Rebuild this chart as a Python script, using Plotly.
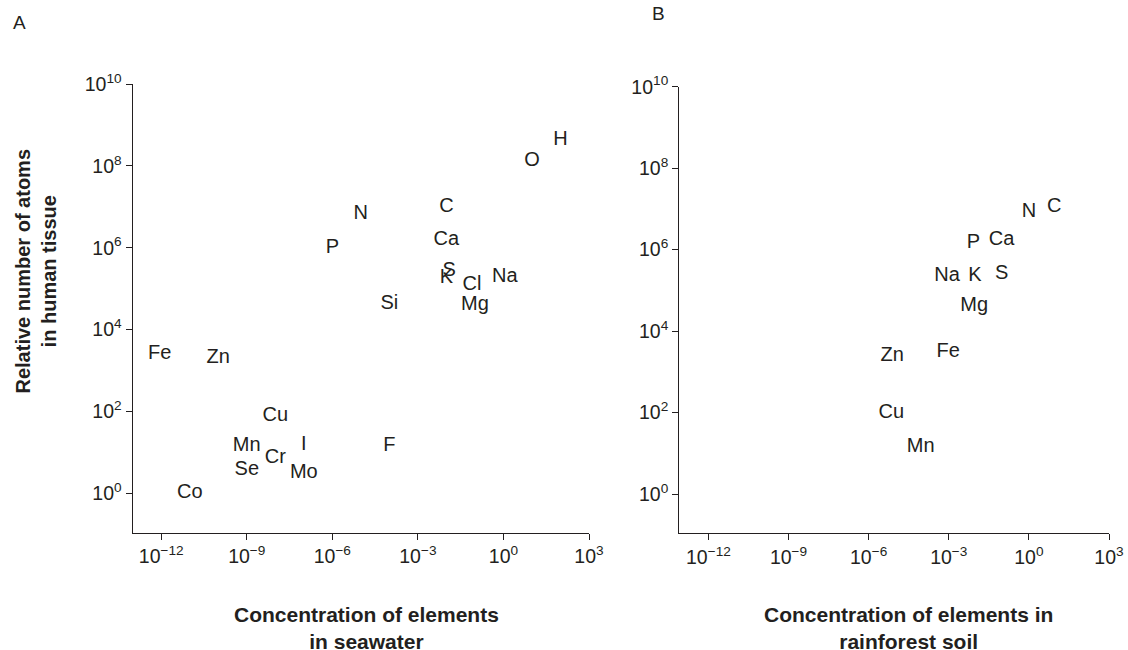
import plotly.graph_objects as go

# ---- Data (log10 values) ----
# Panel A: seawater concentration vs. atoms in human tissue
sea_elements = ["H", "O", "C", "N", "P", "Ca", "S", "K", "Cl", "Na", "Mg", "Si",
                "Fe", "Zn", "Cu", "Mn", "I", "F", "Cr", "Se", "Mo", "Co"]
sea_log_conc = [2.0, 1.0, -2.0, -5.0, -6.0, -2.0, -1.9, -2.0, -1.1, 0.05, -1.0, -4.0,
                -12.05, -10.0, -8.0, -9.0, -7.0, -4.0, -8.0, -9.0, -7.0, -11.0]
sea_log_atoms = [8.64, 8.13, 7.0, 6.83, 6.0, 6.19, 5.42, 5.26, 5.09, 5.28, 4.6, 4.63,
                 3.41, 3.3, 1.89, 1.16, 1.18, 1.16, 0.87, 0.57, 0.5, 0.01]

# Panel B: rainforest soil concentration vs. atoms in human tissue
soil_elements = ["N", "C", "P", "Ca", "Na", "K", "S", "Mg", "Zn", "Fe", "Cu", "Mn"]
soil_log_conc = [0.0, 0.95, -2.08, -1.02, -3.06, -2.02, -1.02, -2.05, -5.12, -3.02, -5.15, -4.05]
soil_log_atoms = [6.93, 7.04, 6.17, 6.23, 5.35, 5.34, 5.41, 4.62, 3.39, 3.49, 1.98, 1.16]

# Tick labels
x_tickvals = [1e-12, 1e-9, 1e-6, 1e-3, 1e0, 1e3]
x_ticktext = ["10<sup>\u221212</sup>", "10<sup>\u22129</sup>", "10<sup>\u22126</sup>",
              "10<sup>\u22123</sup>", "10<sup>0</sup>", "10<sup>3</sup>"]
y_tickvals = [1e0, 1e2, 1e4, 1e6, 1e8, 1e10]
y_ticktext = ["10<sup>0</sup>", "10<sup>2</sup>", "10<sup>4</sup>", "10<sup>6</sup>",
              "10<sup>8</sup>", "10<sup>10</sup>"]

INK = "#231f20"
FONT = "Liberation Sans, Arial, Helvetica, sans-serif"
W, H = 1128, 650

fig = go.Figure()
fig.add_trace(go.Scatter(
    x=[10 ** v for v in sea_log_conc], y=[10 ** v for v in sea_log_atoms],
    text=sea_elements, mode="text", textposition="middle center",
    textfont=dict(family=FONT, size=20, color=INK),
    xaxis="x", yaxis="y", showlegend=False, hoverinfo="skip"))
fig.add_trace(go.Scatter(
    x=[10 ** v for v in soil_log_conc], y=[10 ** v for v in soil_log_atoms],
    text=soil_elements, mode="text", textposition="middle center",
    textfont=dict(family=FONT, size=20, color=INK),
    xaxis="x2", yaxis="y2", showlegend=False, hoverinfo="skip"))

def px_x(p):
    return p / W

def px_y(p):
    return 1 - p / H

axis_common = dict(type="log", showgrid=False, zeroline=False, showline=True,
                   linecolor=INK, linewidth=1.3, ticks="outside", ticklen=6,
                   tickwidth=1.3, tickcolor=INK, automargin=False,
                   tickfont=dict(family=FONT, size=19.5, color=INK), tickmode="array")

fig.update_layout(
    template="none",
    width=W, height=H, margin=dict(l=0, r=0, t=0, b=0, autoexpand=False),
    paper_bgcolor="white", plot_bgcolor="white",
    xaxis=dict(domain=[px_x(132.7), px_x(589)], range=[-13.0, 3], anchor="y",
               tickvals=x_tickvals, ticktext=x_ticktext, **axis_common),
    yaxis=dict(domain=[px_y(532.7), px_y(84)], range=[-0.963, 10], anchor="x",
               tickvals=y_tickvals, ticktext=y_ticktext, **axis_common),
    xaxis2=dict(domain=[px_x(679.3), px_x(1109)], range=[-13.09, 3], anchor="y2",
                tickvals=x_tickvals, ticktext=x_ticktext, **axis_common),
    yaxis2=dict(domain=[px_y(533.3), px_y(86.7)], range=[-0.965, 10], anchor="x2",
                tickvals=y_tickvals, ticktext=y_ticktext, **axis_common),
)

xtitle_font = dict(family=FONT, size=21, color=INK)
ytitle_font = dict(family=FONT, size=20, color=INK)
annotations = [
    dict(text="<b>Concentration of elements<br>in seawater</b>", x=px_x(366), y=px_y(627.5),
         xref="paper", yref="paper", xanchor="center", yanchor="middle",
         showarrow=False, font=xtitle_font, align="center"),
    dict(text="<b>Concentration of elements in<br>rainforest soil</b>", x=px_x(908), y=px_y(627.5),
         xref="paper", yref="paper", xanchor="center", yanchor="middle",
         showarrow=False, font=xtitle_font, align="center"),
    dict(text="<b>Relative number of atoms<br>in human tissue</b>", x=px_x(35), y=px_y(271.5),
         xref="paper", yref="paper", xanchor="center", yanchor="middle", textangle=-90,
         showarrow=False, font=ytitle_font, align="center"),
    dict(text="A", x=px_x(19), y=px_y(23), xref="paper", yref="paper",
         xanchor="center", yanchor="middle", showarrow=False,
         font=dict(family=FONT, size=19, color=INK)),
    dict(text="B", x=px_x(658), y=px_y(14), xref="paper", yref="paper",
         xanchor="center", yanchor="middle", showarrow=False,
         font=dict(family=FONT, size=19, color=INK)),
]
fig.update_layout(annotations=annotations)

fig.write_html("out.html", config={"displayModeBar": False},
               post_script="document.body.style.margin='0';document.body.style.overflow='hidden';")
